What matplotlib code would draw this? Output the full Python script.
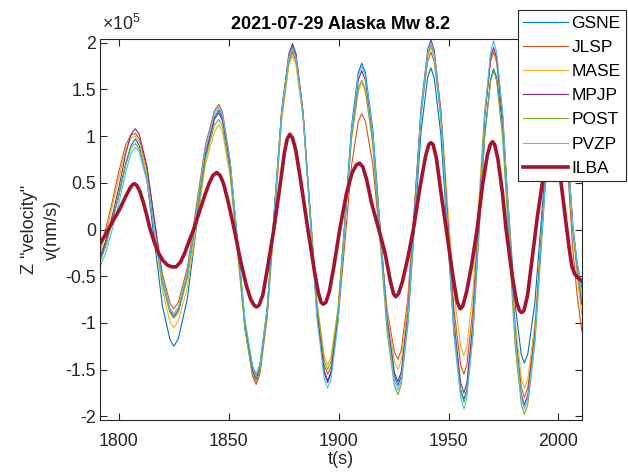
import matplotlib
matplotlib.use("Agg")
import matplotlib.pyplot as plt
import numpy as np
from matplotlib.ticker import FuncFormatter

plt.rcParams['font.family'] = ['Liberation Sans', 'DejaVu Sans']
plt.rcParams['mathtext.fontset'] = 'custom'
plt.rcParams['mathtext.rm'] = 'Liberation Sans'
plt.rcParams['mathtext.it'] = 'Liberation Sans'

# ---- data: vertical velocity in units of 1e5 nm/s ----
t_thin = [1791.4, 1794, 1797, 1800, 1803, 1805.5, 1807.5,
          1809.25, 1812.75, 1816.25, 1819.75, 1823.25, 1825.0,
          1827.05, 1831.15, 1835.25, 1839.35, 1843.45, 1845.5,
          1847.2, 1850.6, 1854.0, 1857.4, 1860.8, 1862.5,
          1864.15, 1867.45, 1870.75, 1874.05, 1877.35, 1879.0,
          1880.6, 1883.8, 1887.0, 1890.2, 1893.4, 1895.0,
          1896.55, 1899.65, 1902.75, 1905.85, 1908.95, 1910.5,
          1912.15, 1915.45, 1918.75, 1922.05, 1925.35, 1927.0,
          1928.5, 1931.5, 1934.5, 1937.5, 1940.5, 1942.0,
          1943.5, 1946.5, 1949.5, 1952.5, 1955.5, 1957.0,
          1958.35, 1961.05, 1963.75, 1966.45, 1969.15, 1970.5,
          1971.9, 1974.7, 1977.5, 1980.3, 1983.1, 1984.5,
          1986.1, 1989.3, 1992.5, 1995.7, 1998.9, 2000.5,
          2002.5, 2004.5, 2006.5, 2008.5, 2010.6]

GSNE = [-0.33, -0.15, 0.10, 0.38, 0.70, 0.90, 0.97,
        0.90, 0.53, -0.14, -0.81, -1.18, -1.25,
        -1.17, -0.74, 0.02, 0.77, 1.20, 1.28,
        1.19, 0.71, -0.14, -0.99, -1.47, -1.56,
        -1.45, -0.85, 0.21, 1.26, 1.86, 1.97,
        1.86, 1.25, 0.18, -0.90, -1.51, -1.62,
        -1.52, -0.94, 0.08, 1.10, 1.68, 1.78,
        1.68, 1.09, 0.06, -0.98, -1.57, -1.67,
        -1.57, -0.99, 0.03, 1.05, 1.63, 1.73,
        1.62, 1.02, -0.05, -1.11, -1.71, -1.82,
        -1.71, -1.11, -0.05, 1.01, 1.61, 1.72,
        1.63, 1.09, 0.15, -0.80, -1.34, -1.43,
        -1.33, -0.78, 0.19, 1.15, 1.70, 1.80,
        1.55, 0.75, 0.05, -0.35, -0.62]

JLSP = [-0.20, 0.00, 0.30, 0.62, 0.90, 1.01, 1.03,
        0.97, 0.65, 0.09, -0.47, -0.79, -0.85,
        -0.78, -0.41, 0.25, 0.90, 1.27, 1.34,
        1.25, 0.74, -0.16, -1.06, -1.57, -1.66,
        -1.55, -0.95, 0.12, 1.19, 1.79, 1.90,
        1.80, 1.21, 0.18, -0.86, -1.45, -1.55,
        -1.47, -0.99, -0.16, 0.68, 1.16, 1.24,
        1.16, 0.71, -0.08, -0.86, -1.31, -1.39,
        -1.29, -0.73, 0.26, 1.24, 1.80, 1.90,
        1.80, 1.21, 0.18, -0.86, -1.45, -1.55,
        -1.45, -0.86, 0.18, 1.21, 1.80, 1.90,
        1.79, 1.16, 0.05, -1.06, -1.69, -1.80,
        -1.69, -1.08, 0.00, 1.08, 1.69, 1.80,
        1.50, 0.55, -0.20, -0.70, -1.08]

MASE = [-0.25, -0.05, 0.25, 0.55, 0.85, 0.98, 1.00,
        0.94, 0.59, -0.03, -0.64, -0.99, -1.05,
        -0.98, -0.62, 0.04, 0.69, 1.05, 1.12,
        1.04, 0.57, -0.25, -1.07, -1.54, -1.62,
        -1.52, -0.92, 0.12, 1.16, 1.76, 1.86,
        1.76, 1.20, 0.20, -0.79, -1.35, -1.45,
        -1.36, -0.85, 0.06, 0.97, 1.48, 1.57,
        1.48, 0.96, 0.03, -0.89, -1.41, -1.50,
        -1.40, -0.81, 0.22, 1.26, 1.85, 1.95,
        1.85, 1.29, 0.30, -0.69, -1.25, -1.35,
        -1.25, -0.69, 0.29, 1.27, 1.83, 1.93,
        1.82, 1.20, 0.11, -0.97, -1.59, -1.70,
        -1.60, -1.00, 0.05, 1.10, 1.70, 1.80,
        1.55, 0.70, 0.00, -0.50, -0.90]

MPJP = [-0.30, -0.12, 0.15, 0.45, 0.80, 1.02, 1.08,
        1.02, 0.68, 0.08, -0.53, -0.87, -0.93,
        -0.86, -0.49, 0.16, 0.81, 1.18, 1.25,
        1.16, 0.68, -0.18, -1.03, -1.51, -1.60,
        -1.49, -0.88, 0.20, 1.27, 1.88, 1.99,
        1.88, 1.26, 0.18, -0.91, -1.53, -1.64,
        -1.54, -0.97, 0.03, 1.03, 1.60, 1.70,
        1.60, 1.03, 0.04, -0.96, -1.53, -1.63,
        -1.52, -0.90, 0.20, 1.30, 1.92, 2.03,
        1.92, 1.27, 0.14, -0.99, -1.64, -1.75,
        -1.64, -1.01, 0.10, 1.21, 1.84, 1.95,
        1.84, 1.18, 0.04, -1.11, -1.77, -1.88,
        -1.77, -1.12, 0.01, 1.14, 1.79, 1.90,
        1.65, 0.75, 0.05, -0.40, -0.80]

POST = [-0.35, -0.18, 0.08, 0.36, 0.68, 0.88, 0.92,
        0.86, 0.55, -0.02, -0.58, -0.89, -0.95,
        -0.89, -0.52, 0.12, 0.75, 1.12, 1.18,
        1.10, 0.62, -0.23, -1.07, -1.55, -1.63,
        -1.52, -0.92, 0.15, 1.22, 1.82, 1.93,
        1.83, 1.24, 0.22, -0.81, -1.40, -1.50,
        -1.41, -0.88, 0.05, 0.98, 1.51, 1.60,
        1.50, 0.93, -0.09, -1.10, -1.67, -1.77,
        -1.66, -1.02, 0.10, 1.23, 1.87, 1.98,
        1.87, 1.21, 0.07, -1.08, -1.74, -1.85,
        -1.74, -1.14, -0.08, 0.99, 1.59, 1.70,
        1.59, 0.96, -0.14, -1.24, -1.87, -1.98,
        -1.87, -1.22, -0.09, 1.04, 1.69, 1.80,
        1.55, 0.70, 0.00, -0.40, -0.75]

PVZP = [-0.40, -0.25, 0.00, 0.28, 0.60, 0.82, 0.88,
        0.83, 0.52, -0.01, -0.54, -0.85, -0.90,
        -0.83, -0.46, 0.20, 0.87, 1.24, 1.31,
        1.22, 0.74, -0.12, -0.98, -1.46, -1.55,
        -1.45, -0.85, 0.20, 1.25, 1.85, 1.95,
        1.84, 1.22, 0.12, -0.97, -1.59, -1.70,
        -1.60, -1.01, 0.02, 1.06, 1.65, 1.75,
        1.65, 1.06, 0.01, -1.03, -1.62, -1.72,
        -1.61, -0.98, 0.14, 1.26, 1.89, 2.00,
        1.88, 1.22, 0.04, -1.14, -1.80, -1.92,
        -1.80, -1.13, 0.05, 1.23, 1.90, 2.02,
        1.90, 1.23, 0.05, -1.13, -1.80, -1.92,
        -1.81, -1.17, -0.03, 1.10, 1.74, 1.85,
        1.60, 0.75, 0.05, -0.35, -0.68]

t_ilba = [1791.4, 1794, 1797, 1800, 1803, 1805, 1806.2, 1807.1, 1808.2, 1809.5,
          1811, 1812.5, 1814, 1816, 1818, 1820, 1822, 1824, 1826, 1828,
          1830, 1832, 1834, 1836.5, 1839, 1841, 1842.8, 1844.5, 1846, 1847.5,
          1849.5, 1852.5, 1855.5, 1858, 1860, 1861.5, 1862.6, 1863.8, 1865.5, 1867.5,
          1870.5, 1873.5, 1875.3, 1876.6, 1877.8, 1879, 1880.5, 1883, 1886, 1889,
          1890.8, 1892, 1893, 1894.2, 1895.8, 1897.8, 1900.5, 1903.5, 1906, 1908,
          1909.5, 1911, 1912.8, 1915, 1918.5, 1921, 1923.5, 1925, 1926, 1927.2,
          1929, 1931.5, 1934, 1937, 1939.5, 1941, 1942, 1943, 1944.5, 1947,
          1949, 1952, 1954, 1955.3, 1956.5, 1958.3, 1960.5, 1963, 1965.5, 1967.7,
          1969, 1970, 1971, 1972.5, 1974.5, 1976.2, 1979, 1981, 1982.3, 1983.3,
          1984.3, 1986, 1988, 1990.5, 1992.7, 1994.8, 1996, 1997, 1998, 1999.5,
          2001.2, 2003, 2005, 2006.2, 2007.5, 2009, 2010.6]
ILBA = [-0.15, -0.05, 0.08, 0.20, 0.35, 0.44, 0.48, 0.49, 0.47, 0.41,
        0.30, 0.17, 0.02, -0.13, -0.25, -0.33, -0.38, -0.40, -0.40, -0.35,
        -0.25, -0.12, 0.00, 0.18, 0.36, 0.49, 0.58, 0.61, 0.58, 0.50,
        0.32, 0.00, -0.35, -0.60, -0.75, -0.81, -0.83, -0.81, -0.70, -0.43,
        0.00, 0.50, 0.82, 0.97, 1.02, 0.98, 0.85, 0.48, 0.00, -0.45,
        -0.68, -0.78, -0.80, -0.78, -0.66, -0.40, 0.00, 0.38, 0.60, 0.69,
        0.71, 0.67, 0.53, 0.28, -0.02, -0.24, -0.55, -0.69, -0.72, -0.69,
        -0.56, -0.30, 0.00, 0.45, 0.78, 0.91, 0.93, 0.91, 0.76, 0.32,
        0.00, -0.50, -0.78, -0.85, -0.82, -0.66, -0.38, 0.00, 0.48, 0.80,
        0.91, 0.94, 0.91, 0.75, 0.40, 0.00, -0.50, -0.78, -0.87, -0.89,
        -0.87, -0.70, -0.32, 0.15, 0.50, 0.80, 0.92, 0.95, 0.92, 0.78,
        0.50, 0.16, -0.22, -0.40, -0.48, -0.52, -0.55]

stations = ['GSNE', 'JLSP', 'MASE', 'MPJP', 'POST', 'PVZP']
thin_values = [GSNE, JLSP, MASE, MPJP, POST, PVZP]
colors = ['#0072BD', '#D95319', '#EDB120', '#7E2F8E', '#77AC30', '#4DBEEE']
SCALE = 1e5
TXT = '#262626'

fig = plt.figure(figsize=(6.28, 4.75), dpi=100)
ax = fig.add_axes([100/628, 1-420/475, 481.7/628, 381/475])

for name, vals, c in zip(stations, thin_values, colors):
    ax.plot(t_thin, np.array(vals) * SCALE, color=c, lw=0.8, label=name)
ax.plot(t_ilba, np.array(ILBA) * SCALE, color='#A2142F', lw=2.6, label='ILBA')

ax.set_xlim(1791.4, 2010.6)
ax.set_ylim(-2.04e5, 2.04e5)
ax.set_xticks([1800, 1850, 1900, 1950, 2000])
ax.set_yticks(np.arange(-2, 2.01, 0.5) * SCALE)
ax.yaxis.set_major_formatter(FuncFormatter(lambda v, p: f'{v / SCALE:g}'))

ax.tick_params(direction='in', length=5, width=0.8, top=True, right=True,
               labelsize=12.8, colors=TXT)
ax.tick_params(axis='x', pad=9)
ax.tick_params(axis='y', pad=3)
for s in ax.spines.values():
    s.set_color(TXT)
    s.set_linewidth(0.8)

ax.text(0.005, 1.012, r'$\times$10$^{5}$', transform=ax.transAxes,
        ha='left', va='bottom', fontsize=12.8, color=TXT)

ax.set_title('2021-07-29 Alaska Mw 8.2', fontsize=13, fontweight='bold', pad=7)
ax.set_xlabel('t(s)', fontsize=13, labelpad=1, color=TXT)
ax.set_ylabel('Z "velocity"\nv(nm/s)', fontsize=13, labelpad=3, color=TXT,
              linespacing=1.45)

leg = ax.legend(loc='upper right', bbox_to_anchor=(626/628, 1-10/475),
                bbox_transform=fig.transFigure, borderaxespad=0, fancybox=False,
                framealpha=1, edgecolor=TXT, fontsize=12.5,
                handlelength=2.6, handletextpad=0.18, labelspacing=0.52,
                borderpad=0.32)
leg.get_frame().set_linewidth(0.8)

fig.savefig('out.png', dpi=100)
